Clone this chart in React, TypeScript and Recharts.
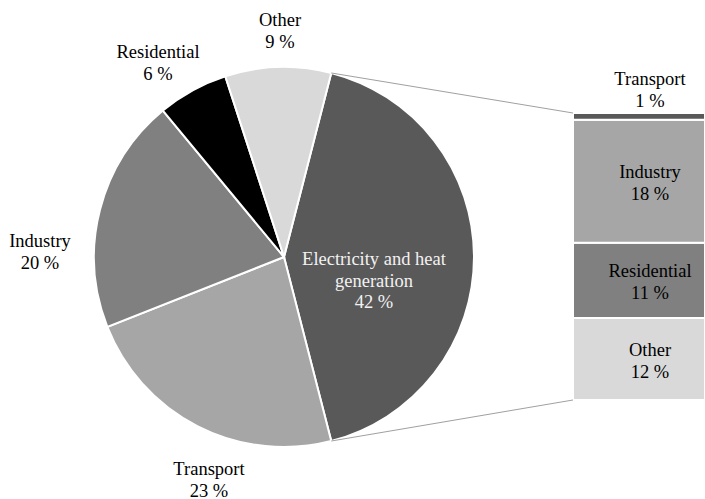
import { PieChart, Pie, Cell, BarChart, Bar, XAxis, YAxis, LabelList } from "recharts"

// CO2 emissions by sector, with the electricity & heat slice broken down
const sectors = ["Electricity and heat generation", "Transport", "Industry", "Residential", "Other"]
const shares = [42, 23, 20, 6, 9]
const pieColors = ["#595959", "#a6a6a6", "#808080", "#000000", "#d9d9d9"]

// breakdown of the electricity & heat slice, top to bottom
const breakdownNames = ["Transport", "Industry", "Residential", "Other"]
const breakdownShares = [1, 18, 11, 12]
const breakdownColors = ["#595959", "#a6a6a6", "#808080", "#d9d9d9"]

const W = 705
const H = 499
const CX = 284
const CY = 257
const R = 190
const BAR_LEFT = 573
const BAR_TOP = 113
const BAR_FULL_W = 154 // the bar runs past the right edge of the frame
const BAR_W = W - BAR_LEFT
const BAR_H = 287
const HEAD = 60 // room above the bar for the label of the thin top segment
const FONT = '"Liberation Serif", "Times New Roman", serif'
const FS = 18.5
const LINE = 21.5

// label anchor (centre x, first baseline) relative to the pie centre
const labelOffsets: Record<string, [number, number]> = {
  "Electricity and heat generation": [90, 8],
  Transport: [-75, 218],
  Industry: [-244, -10],
  Residential: [-126, -199],
  Other: [-4, -231],
}

const pieData = sectors.map((name, i) => ({ name, value: shares[i] }))
const barRow: Record<string, number | string> = { name: "breakdown" }
breakdownNames.forEach((n, i) => {
  barRow[n] = breakdownShares[i]
})

// electricity slice centred on the 3 o'clock direction, drawn clockwise
const startAngle = (shares[0] / 100) * 180
const endAngle = startAngle - 360

function renderPieLabel(props: any) {
  const name: string = props.name
  const off = labelOffsets[name]
  const x = CX + off[0]
  const y = CY + off[1]
  const lines = name === sectors[0] ? ["Electricity and heat", "generation"] : [name]
  lines.push(props.value + " %")
  const inside = name === sectors[0]
  return (
    <text key={name} textAnchor="middle" fontFamily={FONT} fontSize={FS} fill={inside ? "#f2f2f2" : "#000"}>
      {lines.map((t, i) => (
        <tspan key={i} x={x} y={y + i * LINE}>
          {t}
        </tspan>
      ))}
    </text>
  )
}

function barLabel(name: string) {
  return function BarText(props: any) {
    const { x, y, height, value } = props
    const cx = x + BAR_FULL_W / 2
    // thin segments get their label above the bar
    const base = height < 20 ? y - 28 : y + height / 2 - 3
    return (
      <text textAnchor="middle" fontFamily={FONT} fontSize={FS} fill="#000">
        <tspan x={cx} y={base}>
          {name}
        </tspan>
        <tspan x={cx} y={base + LINE}>
          {value + " %"}
        </tspan>
      </text>
    )
  }
}

const rad = (startAngle * Math.PI) / 180
const topPt = [CX + R * Math.cos(rad), CY - R * Math.sin(rad)]
const botPt = [CX + R * Math.cos(-rad), CY - R * Math.sin(-rad)]

export default function App() {
  const total = breakdownShares.reduce((a, b) => a + b, 0)
  const stackOrder = [...breakdownNames].reverse()
  return (
    <>
      <style>{"html,body{margin:0;padding:0;overflow:hidden;background:#fff}"}</style>
      <div style={{ position: "relative", width: W, height: H, overflow: "hidden", background: "#fff" }}>
        <div style={{ position: "absolute", left: 0, top: 0, width: W, height: H }}>
          <PieChart width={W} height={H} margin={{ top: 0, right: 0, bottom: 0, left: 0 }}>
            <Pie
              data={pieData}
              dataKey="value"
              nameKey="name"
              cx={CX}
              cy={CY}
              outerRadius={R}
              startAngle={startAngle}
              endAngle={endAngle}
              stroke="#ffffff"
              strokeWidth={2}
              label={renderPieLabel}
              labelLine={false}
              isAnimationActive={false}
            >
              {pieData.map((d, i) => (
                <Cell key={d.name} fill={pieColors[i]} />
              ))}
            </Pie>
          </PieChart>
        </div>
        <svg width={W} height={H} style={{ position: "absolute", left: 0, top: 0 }}>
          <line x1={topPt[0]} y1={topPt[1]} x2={BAR_LEFT} y2={BAR_TOP} stroke="#a0a0a0" strokeWidth={1} />
          <line x1={botPt[0]} y1={botPt[1]} x2={BAR_LEFT} y2={BAR_TOP + BAR_H} stroke="#a0a0a0" strokeWidth={1} />
        </svg>
        <div style={{ position: "absolute", left: BAR_LEFT, top: BAR_TOP - HEAD, width: BAR_W, height: BAR_H + HEAD }}>
          <BarChart
            width={BAR_W}
            height={BAR_H + HEAD}
            data={[barRow]}
            margin={{ top: HEAD, right: 0, bottom: 0, left: 0 }}
            barCategoryGap={0}
          >
            <XAxis dataKey="name" hide />
            <YAxis hide domain={[0, total]} />
            {stackOrder.map((n) => {
              const i = breakdownNames.indexOf(n)
              return (
                <Bar
                  key={n}
                  dataKey={n}
                  stackId="e"
                  fill={breakdownColors[i]}
                  stroke="#ffffff"
                  strokeWidth={2}
                  isAnimationActive={false}
                >
                  <LabelList dataKey={n} content={barLabel(n)} />
                </Bar>
              )
            })}
          </BarChart>
        </div>
      </div>
    </>
  )
}
